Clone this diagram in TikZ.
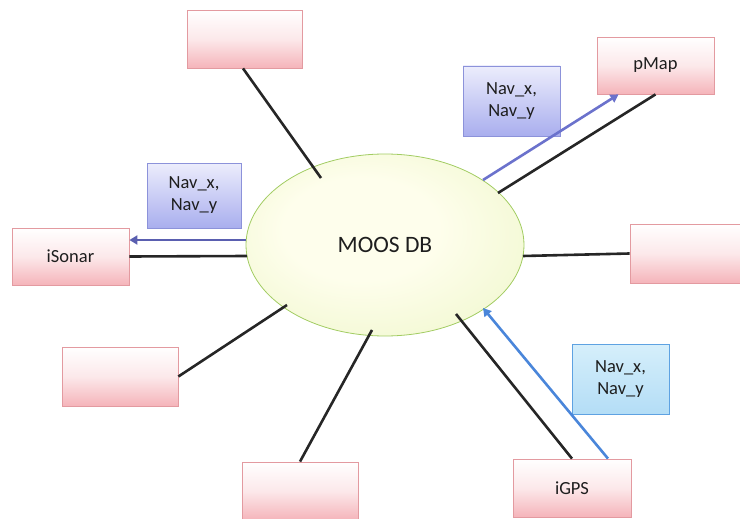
\documentclass[tikz,border=0pt]{standalone}
\usepackage{fontspec}
\setmainfont{Carlito}
\usetikzlibrary{arrows.meta,shapes.geometric}
\definecolor{pinkB}{HTML}{E39AA0}
\definecolor{pinkF}{HTML}{F5B4BA}
\definecolor{lavB}{HTML}{8C92DA}
\definecolor{lavF}{HTML}{A9AEEE}
\definecolor{lavT}{HTML}{ECEDFC}
\definecolor{cyB}{HTML}{5EA2E2}
\definecolor{cyF}{HTML}{B3DDF6}
\definecolor{cyT}{HTML}{D6EFFB}
\definecolor{elB}{HTML}{A2CC62}
\definecolor{elIn}{HTML}{FEFEEC}
\definecolor{elMid}{HTML}{F2F8D2}
\definecolor{elOut}{HTML}{D4EBA2}
\definecolor{arL}{HTML}{5A5FB0}
\definecolor{arP}{HTML}{6B72CC}
\definecolor{arG}{HTML}{4A86DA}
\definecolor{txt}{HTML}{1E1E1E}
\pgfdeclareradialshading{dbshade}{\pgfpoint{-6bp}{6bp}}{color(0bp)=(elIn); color(14bp)=(elIn); color(32bp)=(elMid); color(50bp)=(elOut)}
\tikzset{
  procbox/.style={draw=pinkB, line width=0.8pt, top color=white, bottom color=pinkF, middle color=white!70!pinkF,
    minimum width=#1, inner sep=0pt, text=txt, font=\fontsize{18.5}{20}\selectfont},
  navbox/.style={draw=lavB, line width=0.8pt, top color=lavT, bottom color=lavF, inner sep=0pt,
    align=center, text=txt, font=\fontsize{18.5}{22}\selectfont, minimum width=95pt, minimum height=67pt},
  navcyan/.style={navbox, draw=cyB, top color=cyT, bottom color=cyF},
  link/.style={line width=2.6pt, draw=black!85},
  flow/.style={line width=2.6pt, -{Triangle[length=8pt,width=9pt]}},
}
\begin{document}
\begin{tikzpicture}[x=1pt,y=-1pt]
\useasboundingbox (0,0) rectangle (740,519);
\clip (0,0) rectangle (740,519);
% central database
\node[ellipse, draw=elB, line width=0.8pt, shading=dbshade,
      minimum width=278pt, minimum height=182pt, text=txt, font=\fontsize{23.5}{26}\selectfont] (db) at (385,245) {MOOS DB};
% process boxes
\node[procbox=115pt, minimum height=58pt] (top) at (244.5,39) {};
\node[procbox=117pt, minimum height=57pt] (isonar) at (70.5,256.5) {iSonar};
\node[procbox=117pt, minimum height=57pt] (pmap) at (655.5,65.5) {pMap};
\node[procbox=117pt, minimum height=59pt] (right) at (688.5,253.5) {};
\node[procbox=116pt, minimum height=59pt] (bl) at (120,376.5) {};
\node[procbox=116pt, minimum height=58pt] (bm) at (300,491) {};
\node[procbox=118pt, minimum height=58pt] (igps) at (572,488) {iGPS};
% message labels
\node[navbox, minimum width=94pt, minimum height=65pt] (navl) at (194,195.5) {Nav\_x,\\Nav\_y};
\node[navbox, minimum width=97pt, minimum height=70pt] (navp) at (511.5,101) {Nav\_x,\\Nav\_y};
\node[navcyan, minimum width=97pt, minimum height=70pt] (navg) at (620.5,379) {Nav\_x,\\Nav\_y};
% ends on the database
\coordinate (eTop) at (321,178);
\coordinate (eLeftA) at (246,240);
\coordinate (eLeft) at (247,256);
\coordinate (ePmapA) at (483,180);
\coordinate (ePmap) at (498,193);
\coordinate (eRight) at (523,256);
\coordinate (eBL) at (287,305);
\coordinate (eBM) at (372,330);
\coordinate (eGps) at (456,314);
\coordinate (eGpsA) at (483,308);
% connectors
\draw[link] ([xshift=-1.5pt]top.south) -- (eTop);
\draw[link] (isonar.east) -- (eLeft);
\draw[flow, draw=arL] (eLeftA) -- ([yshift=16.5pt]isonar.east);
\draw[link] (pmap.south) -- (ePmap);
\draw[flow, draw=arP] (ePmapA) -- ([xshift=-37pt]pmap.south);
\draw[link] (right.west) -- (eRight);
\draw[link] (bl.east) -- (eBL);
\draw[link] (bm.north) -- (eBM);
\draw[link] (igps.north) -- (eGps);
\draw[flow, draw=arG] ([xshift=36pt]igps.north) -- (eGpsA);
\end{tikzpicture}
\end{document}
